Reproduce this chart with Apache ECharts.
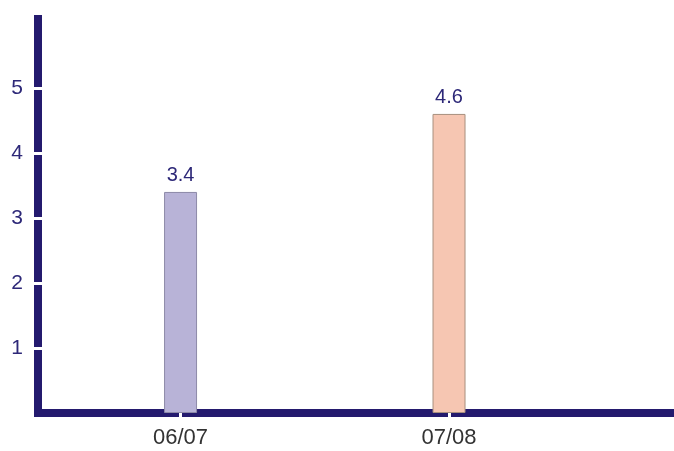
<!DOCTYPE html>
<html>
<head>
<meta charset="utf-8">
<script src="https://cdn.jsdelivr.net/npm/echarts@6/dist/echarts.min.js"></script>
<style>
  html, body { margin: 0; padding: 0; background: #fff; }
  #chart { width: 674px; height: 451px; }
</style>
</head>
<body>
<div id="chart"></div>
<script>
// Season categories and their values
const categories = ['06/07', '07/08'];
const values = [3.4, 4.6];
const yTicks = [1, 2, 3, 4, 5];

const barColors = ['#b8b3d7', '#f6c6b2'];
const barBorders = ['#8d8aa8', '#a8907f'];

const navy = '#241a6e';
const xPositions = categories.map((c, i) => i);

const chart = echarts.init(document.getElementById('chart'));

// white ticks that cut small gaps through the thick axis lines
const gapTick = (inside) => ({
  show: true,
  inside: inside,
  length: 6,
  lineStyle: { color: '#ffffff', width: 3 }
});

const axisLineStyle = { color: navy, width: 8, cap: 'square' };

chart.setOption({
  animation: false,
  grid: { left: 38, right: 0, top: 19, bottom: 38, containLabel: false },
  xAxis: [
    {
      type: 'value',
      min: -0.531,
      max: 1.838,
      splitLine: { show: false },
      axisLine: { show: true, onZero: false, lineStyle: axisLineStyle },
      axisTick: Object.assign(gapTick(false), { customValues: xPositions }),
      axisLabel: {
        customValues: xPositions,
        formatter: v => categories[Math.round(v)],
        color: '#333333',
        fontSize: 22,
        fontFamily: 'Liberation Sans',
        margin: 14
      }
    },
    {
      type: 'value',
      position: 'bottom',
      min: -0.531,
      max: 1.838,
      splitLine: { show: false },
      axisLine: { show: false, onZero: false },
      axisTick: Object.assign(gapTick(true), { customValues: xPositions }),
      axisLabel: { show: false }
    }
  ],
  yAxis: [
    {
      type: 'value',
      min: 0,
      max: 6.06,
      splitLine: { show: false },
      axisLine: { show: true, onZero: false, lineStyle: axisLineStyle },
      axisTick: Object.assign(gapTick(false), { customValues: yTicks }),
      axisLabel: {
        customValues: yTicks,
        color: '#2d2878',
        fontSize: 21,
        fontFamily: 'Liberation Sans',
        margin: 15,
        padding: [6, 0, 0, 0]
      }
    },
    {
      type: 'value',
      position: 'left',
      min: 0,
      max: 6.06,
      splitLine: { show: false },
      axisLine: { show: false, onZero: false },
      axisTick: Object.assign(gapTick(true), { customValues: yTicks }),
      axisLabel: { show: false }
    }
  ],
  series: [
    {
      type: 'bar',
      xAxisIndex: 0,
      yAxisIndex: 0,
      barWidth: 33,
      z: 1,
      data: values.map((v, i) => ({
        value: [xPositions[i], v],
        itemStyle: {
          color: barColors[i],
          borderColor: barBorders[i],
          borderWidth: 1
        }
      })),
      label: {
        show: true,
        position: 'top',
        distance: 6,
        formatter: p => p.value[1].toFixed(1),
        color: '#2d2878',
        fontSize: 20,
        fontFamily: 'Liberation Sans'
      }
    }
  ]
});
</script>
</body>
</html>
